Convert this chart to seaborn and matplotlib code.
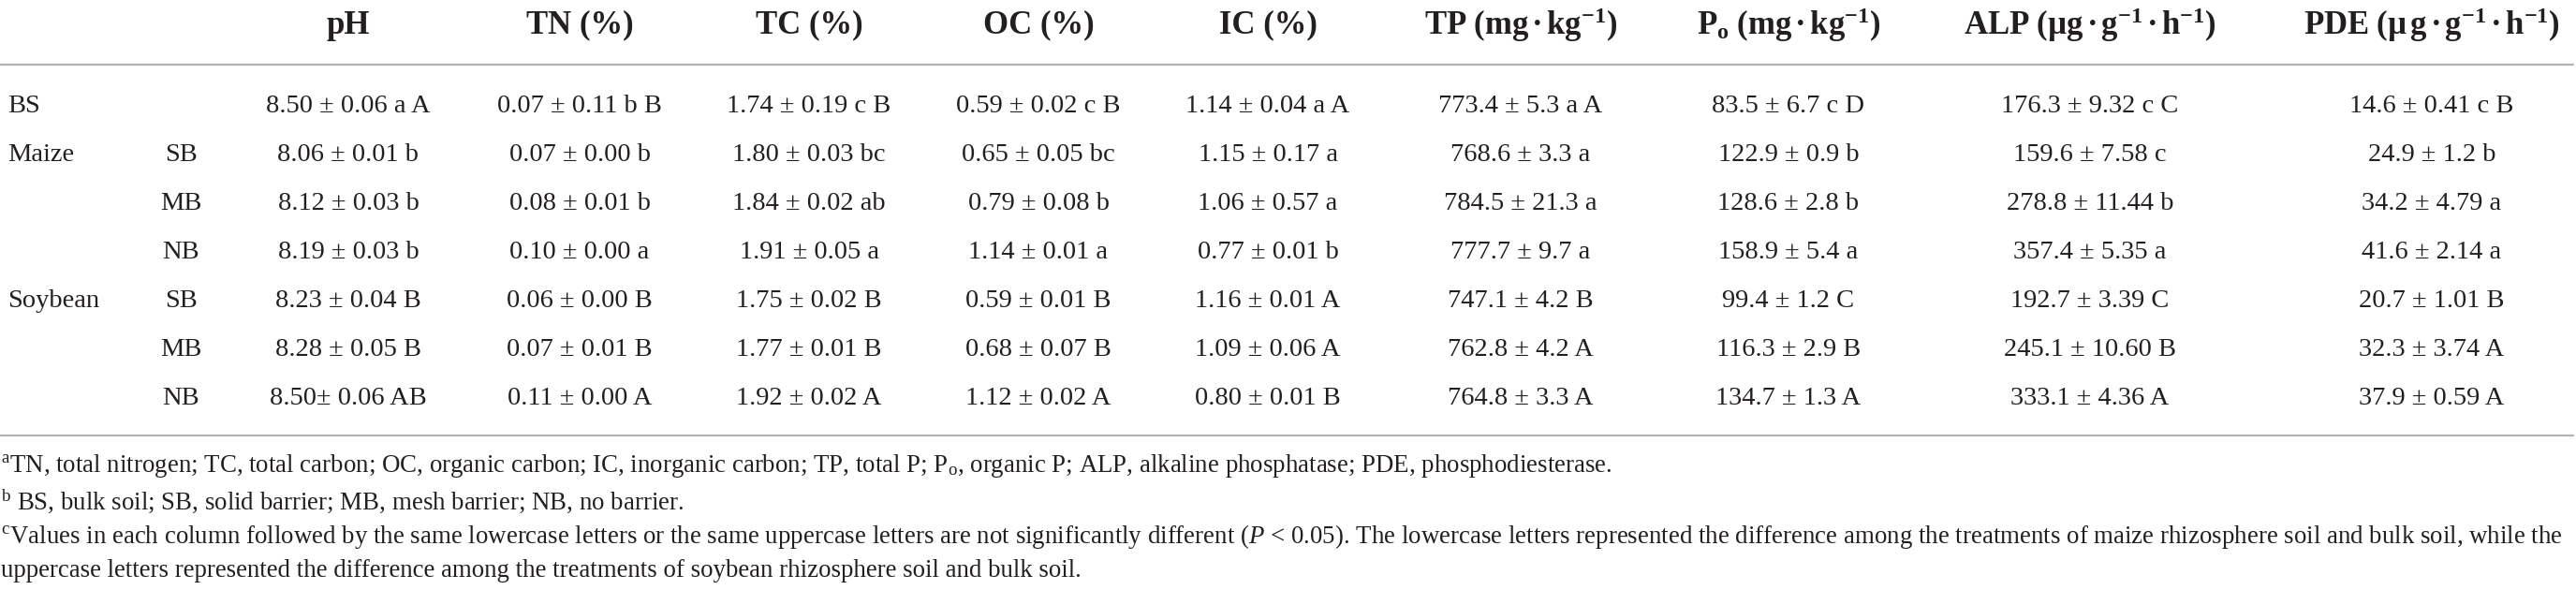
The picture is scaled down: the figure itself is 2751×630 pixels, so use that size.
import matplotlib
matplotlib.use("Agg")
import matplotlib.pyplot as plt
import seaborn as sns

# table content
headers = ["pH", "TN (%)", "TC (%)", "OC (%)", "IC (%)",
           r"$\mathbf{TP\ (mg\,·\,kg^{-1})}$",
           r"$\mathbf{P_o\ (mg\,·\,kg^{-1})}$",
           r"$\mathbf{ALP\ (µg\,·\,g^{-1}\,·\,h^{-1})}$",
           r"$\mathbf{PDE\ (µ\,g\,·\,g^{-1}\,·\,h^{-1})}$"]
groups = ["BS", "Maize", "", "", "Soybean", "", ""]
treatments = ["", "SB", "MB", "NB", "SB", "MB", "NB"]

ph = ["8.50 ± 0.06 a A", "8.06 ± 0.01 b", "8.12 ± 0.03 b", "8.19 ± 0.03 b",
      "8.23 ± 0.04 B", "8.28 ± 0.05 B", "8.50± 0.06 AB"]
tn = ["0.07 ± 0.11 b B", "0.07 ± 0.00 b", "0.08 ± 0.01 b", "0.10 ± 0.00 a",
      "0.06 ± 0.00 B", "0.07 ± 0.01 B", "0.11 ± 0.00 A"]
tc = ["1.74 ± 0.19 c B", "1.80 ± 0.03 bc", "1.84 ± 0.02 ab", "1.91 ± 0.05 a",
      "1.75 ± 0.02 B", "1.77 ± 0.01 B", "1.92 ± 0.02 A"]
oc = ["0.59 ± 0.02 c B", "0.65 ± 0.05 bc", "0.79 ± 0.08 b", "1.14 ± 0.01 a",
      "0.59 ± 0.01 B", "0.68 ± 0.07 B", "1.12 ± 0.02 A"]
ic = ["1.14 ± 0.04 a A", "1.15 ± 0.17 a", "1.06 ± 0.57 a", "0.77 ± 0.01 b",
      "1.16 ± 0.01 A", "1.09 ± 0.06 A", "0.80 ± 0.01 B"]
tp = ["773.4 ± 5.3 a A", "768.6 ± 3.3 a", "784.5 ± 21.3 a", "777.7 ± 9.7 a",
      "747.1 ± 4.2 B", "762.8 ± 4.2 A", "764.8 ± 3.3 A"]
po = ["83.5 ± 6.7 c D", "122.9 ± 0.9 b", "128.6 ± 2.8 b", "158.9 ± 5.4 a",
      "99.4 ± 1.2 C", "116.3 ± 2.9 B", "134.7 ± 1.3 A"]
alp = ["176.3 ± 9.32 c C", "159.6 ± 7.58 c", "278.8 ± 11.44 b", "357.4 ± 5.35 a",
       "192.7 ± 3.39 C", "245.1 ± 10.60 B", "333.1 ± 4.36 A"]
pde = ["14.6 ± 0.41 c B", "24.9 ± 1.2 b", "34.2 ± 4.79 a", "41.6 ± 2.14 a",
       "20.7 ± 1.01 B", "32.3 ± 3.74 A", "37.9 ± 0.59 A"]
columns = [ph, tn, tc, oc, ic, tp, po, alp, pde]

footnotes = [
    r"$^{\rm a}$TN, total nitrogen; TC, total carbon; OC, organic carbon; IC, inorganic carbon; "
    r"TP, total P; P$_{\rm o}$, organic P; ALP, alkaline phosphatase; PDE, phosphodiesterase.",
    r"$^{\rm b}$ BS, bulk soil; SB, solid barrier; MB, mesh barrier; NB, no barrier.",
    r"$^{\rm c}$Values in each column followed by the same lowercase letters or the same uppercase "
    r"letters are not significantly different ($P$ < 0.05). The lowercase letters represented the "
    r"difference among the treatments of maize rhizosphere soil and bulk soil, while the",
    "uppercase letters represented the difference among the treatments of soybean rhizosphere soil and bulk soil.",
]

sns.set_theme(style="white")
plt.rcParams["font.family"] = ["Liberation Serif", "DejaVu Serif"]
plt.rcParams["mathtext.fontset"] = "custom"
plt.rcParams["mathtext.rm"] = "Liberation Serif"
plt.rcParams["mathtext.it"] = "Liberation Serif:italic"
plt.rcParams["mathtext.bf"] = "Liberation Serif:bold"

ink = "#231f20"
col_x = [372, 619, 864, 1109, 1354, 1624, 1910, 2232, 2597]
row_y = [113, 166, 218, 270, 322, 374, 425]
foot_y = [498, 535, 573, 610]

fig = plt.figure(figsize=(27.51, 6.30), dpi=100)
ax = fig.add_axes([0, 0, 1, 1])
ax.set_xlim(0, 2751)
ax.set_ylim(630, 0)
ax.axis("off")

for x, h in zip(col_x, headers):
    ax.text(x, 27, h, ha="center", va="center", fontsize=25,
            fontweight="bold", color=ink)

ax.axhline(69, xmin=0, xmax=2748 / 2751, color="#b3b3b3", lw=1.6)
ax.axhline(465, xmin=0, xmax=2748 / 2751, color="#b3b3b3", lw=1.6)

for y, g, t in zip(row_y, groups, treatments):
    ax.text(8, y, g, ha="left", va="center", fontsize=20.5, color=ink)
    ax.text(193, y, t, ha="center", va="center", fontsize=20.5, color=ink)

for x, vals in zip(col_x, columns):
    for y, v in zip(row_y, vals):
        ax.text(x, y, v, ha="center", va="center", fontsize=20.5, color=ink)

for y, note in zip(foot_y, footnotes):
    ax.text(1, y, note, ha="left", va="center", fontsize=19.4, color=ink)

fig.savefig("out.png", dpi=100, facecolor="white")
